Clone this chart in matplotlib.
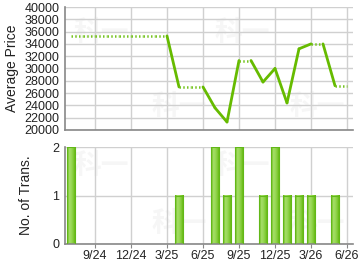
import numpy as np
import matplotlib
matplotlib.use("Agg")
import matplotlib.pyplot as plt
from matplotlib.colors import LinearSegmentedColormap

plt.rcParams['font.family'] = ['Liberation Sans', 'Noto Sans CJK SC', 'DejaVu Sans']

# months from 7/24 to 6/26
months = ['7/24', '8/24', '9/24', '10/24', '11/24', '12/24', '1/25', '2/25', '3/25',
          '4/25', '5/25', '6/25', '7/25', '8/25', '9/25', '10/25', '11/25', '12/25',
          '1/26', '2/26', '3/26', '4/26', '5/26', '6/26']
# average price per month (None = no transaction, carried forward)
price = [35300, None, None, None, None, None, None, None, None,
         27000, None, None, 23600, 21300, 31300, None, 27800, 30000,
         24400, 33200, 34000, None, 27200, None]
trans = [2, 0, 0, 0, 0, 0, 0, 0, 0,
         1, 0, 0, 2, 1, 2, 0, 1, 2,
         1, 1, 1, 0, 1, 0]
tick_labels = ['9/24', '12/24', '3/25', '6/25', '9/25', '12/25', '3/26', '6/26']

green = '#66bb00'
grid_c = '#d0d0d0'
spine_c = '#888888'

x = np.arange(len(months))
filled = []
last = None
for p in price:
    if p is not None:
        last = p
    filled.append(last)

fig = plt.figure(figsize=(3.6, 2.7), dpi=100)
ax1 = fig.add_axes([65/360, 1 - 130/270, 288/360, 123/270])
ax2 = fig.add_axes([65/360, 1 - 244/270, 288/360, 97/270])

tick_pos = [months.index(t) for t in tick_labels]

for ax in (ax1, ax2):
    ax.set_xlim(-0.5, 23.5)
    ax.set_xticks(tick_pos)
    ax.grid(True, color=grid_c, linewidth=1)
    ax.set_axisbelow(True)
    for s in ('top', 'right'):
        ax.spines[s].set_visible(False)
    for s in ('left', 'bottom'):
        ax.spines[s].set_color(spine_c)
        ax.spines[s].set_linewidth(1.2)
    ax.tick_params(axis='both', colors=spine_c, labelcolor='#222222', labelsize=9, length=3, width=0.8)
    ax.tick_params(axis='y', length=0, pad=4)

# faint watermarks
wm = dict(fontsize=20, color='#f6f6f6', fontweight='bold', zorder=0, family=['Noto Sans CJK SC', 'DejaVu Sans'])
for ax in (ax1, ax2):
    ax.text(0.03, 0.72, '科一', transform=ax.transAxes, **wm)
    ax.text(0.3, 0.12, '科一', transform=ax.transAxes, **wm)
    ax.text(0.52, 0.72, '科一', transform=ax.transAxes, **wm)
    ax.text(0.78, 0.12, '科一', transform=ax.transAxes, **wm)

# price line
for i in range(len(x) - 1):
    if price[i + 1] is not None:
        ax1.plot([x[i], x[i + 1]], [filled[i], filled[i + 1]], color=green, lw=2, solid_capstyle='round')
    else:
        ax1.plot([x[i], x[i + 1]], [filled[i], filled[i + 1]], color='#77c422', lw=1.8,
                 linestyle=(0, (0.6, 0.9)), dash_capstyle='butt')
ax1.set_ylim(20000, 40000)
ax1.set_yticks(np.arange(20000, 40001, 2000))
ax1.tick_params(axis='x', labelbottom=False, length=0)
ax1.set_ylabel('Average Price', fontsize=10, color='#222222', labelpad=4)

# bars with gradient
cmap = LinearSegmentedColormap.from_list('bar', ['#5ab000', '#a6de6a', '#98d855', '#7cc830', '#5ab000'])
grad = np.linspace(0, 1, 64).reshape(1, -1)
w = 0.68
for xi, t in zip(x, trans):
    if t > 0:
        ax2.imshow(grad, cmap=cmap, extent=[xi - w/2, xi + w/2, 0, t], aspect='auto', zorder=2)
        ax2.bar(xi, t, width=w, fill=False, edgecolor='#62b818', linewidth=0.8, zorder=3)
ax2.set_xlim(-0.5, 23.5)
ax2.set_ylim(0, 2)
ax2.set_yticks([0, 1, 2])
ax2.set_xticklabels(tick_labels)
ax2.tick_params(axis='x', pad=1)
ax2.set_ylabel('No. of Trans.', fontsize=10, color='#222222', labelpad=14)

fig.savefig('out.png', dpi=100)
